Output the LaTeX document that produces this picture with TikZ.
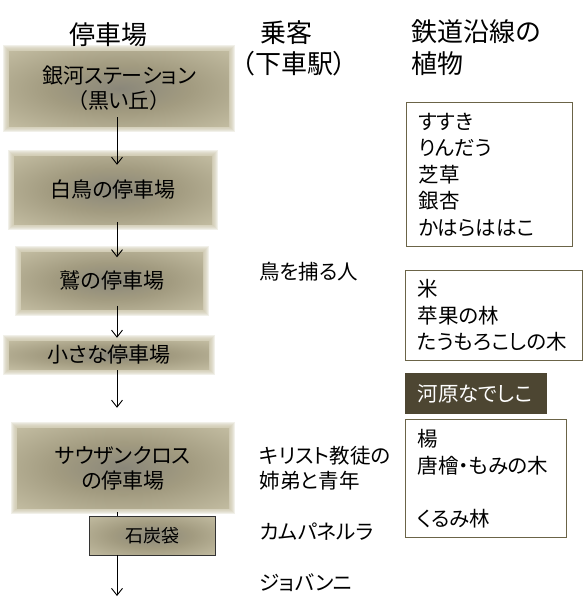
\documentclass[tikz,border=0pt]{standalone}
\usepackage{fontspec}
\setmainfont[RawFeature=+palt]{Noto Sans CJK JP}
\usetikzlibrary{arrows.meta,backgrounds}

\definecolor{stcore}{HTML}{8A877A}
\definecolor{stmid}{HTML}{A29B80}
\definecolor{stedge}{HTML}{C9C3A8}
\definecolor{olive}{HTML}{4D4632}
\definecolor{frame}{HTML}{6B6448}

\pgfdeclareradialshading{stationshade}{\pgfpoint{0bp}{0bp}}{color(0bp)=(stcore); color(16bp)=(stmid); color(40bp)=(stedge); color(50bp)=(stedge)}

\begin{document}
\begin{tikzpicture}[x=1pt, y=-1pt,
  station/.style={rectangle, shade, shading=stationshade, inner sep=0pt, align=center, font=\fontsize{21}{25}\selectfont},
  coalbox/.style={station, draw=black!80, line width=0.8pt, font=\fontsize{18}{22}\selectfont},
  head/.style={font=\fontsize{26}{30}\selectfont},
  rider/.style={anchor=west, font=\fontsize{20.5}{26}\selectfont},
  plants/.style={draw=frame, line width=1pt, fill=white, anchor=north west, align=left, inner xsep=12pt, inner ysep=0pt, font=\fontsize{20.5}{26.5}\selectfont},
  flow/.style={line width=0.9pt, -{Straight Barb[length=7pt, width=11pt]}}]
\useasboundingbox (0,0) rectangle (586,608);

\node[head] (hstation) at (108,35) {停車場};
\node[head] (hrider) at (286,33) {乗客};
\node[head] (hgetoff) at (294,64) {（下車駅）};
\node[head, anchor=west] (hplant) at (408,32) {鉄道沿線の};
\node[head, anchor=west] (hplant2) at (408,64) {植物};

\node[station, minimum width=220pt, minimum height=75pt] (s1) at (119,88.5) {銀河ステーション\\（黒い丘）};
\node[station, minimum width=198pt, minimum height=68pt] (s2) at (113,190) {白鳥の停車場};
\node[station, minimum width=182pt, minimum height=57pt] (s3) at (112,281) {鷲の停車場};
\node[station, minimum width=200pt, minimum height=28pt] (s4) at (109,355) {小さな停車場};
\node[station, minimum width=212pt, minimum height=80pt] (s5) at (123,468) {サウザンクロス\\の停車場};
\node[coalbox, minimum width=126pt, minimum height=39pt] (coal) at (152,535.5) {石炭袋};

\begin{scope}[on background layer]
\foreach \s in {s1,s2,s3,s4,s5}
  \foreach \g in {1,...,6}
    \fill[stedge, opacity=0.25] ([shift={(-\g pt,-\g pt)}]\s.south west) rectangle ([shift={(\g pt,\g pt)}]\s.north east);
\end{scope}

\coordinate (rail) at (117,0);
\coordinate (track) at (117,596);
\draw[flow, shorten <=-9pt, shorten >=-9pt] (s1.south -| rail) -- (s2.north -| rail);
\draw[flow, shorten <=-2pt, shorten >=-5pt] (s2.south -| rail) -- (s3.north -| rail);
\draw[flow, shorten <=-4pt, shorten >=3pt] (s3.south -| rail) -- (s4.north -| rail);
\draw[flow, shorten <=1pt, shorten >=20pt] (s4.south -| rail) -- (s5.north -| rail);
\draw[line width=0.9pt, shorten <=4pt] (s5.south -| rail) -- (coal.north -| rail);
\draw[flow] (coal.south -| rail) -- (track);

\node[rider] (bird) at (256,272) {鳥を捕る人};
\node[rider] (sibs) at (256,456) {キリスト教徒の};
\node[rider] (sibs2) at (256,481) {姉弟と青年};
\node[rider] (camp) at (256,532) {カムパネルラ};
\node[rider] (giov) at (256,583) {ジョバンニ};

\node[plants, text width=142pt, minimum height=144pt] (p1) at (406,102) {すすき\\りんだう\\芝草\\銀杏\\かはらははこ};
\node[plants, text width=153pt, minimum height=90pt] (p2) at (405,270) {米\\苹果の林\\たうもろこしの木};
\node[plants, draw=olive, fill=olive, text=white, text width=117pt, minimum height=40pt] (nade) at (405,373) {河原なでしこ};
\node[plants, text width=137pt, minimum height=118pt] (p3) at (405,419) {楊\\唐檜・もみの木\\[26.5pt]くるみ林};
\end{tikzpicture}
\end{document}
